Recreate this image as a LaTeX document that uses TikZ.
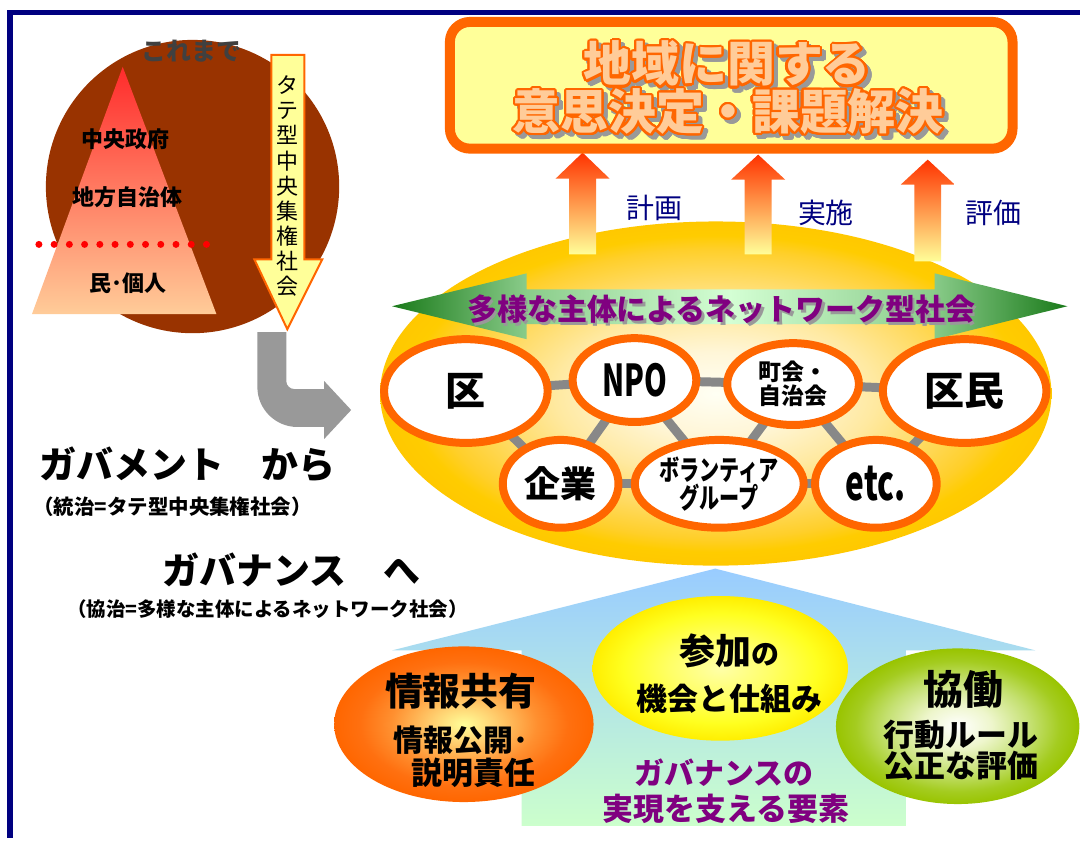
\documentclass[tikz,border=0pt]{standalone}
\usepackage{fontspec}
\setmainfont{Noto Sans CJK JP}
\usepackage{graphicx}
\usepackage{contour}
\contourlength{2.2pt}
\contournumber{24}
\usetikzlibrary{shapes.geometric}

\definecolor{navy}{HTML}{000080}
\definecolor{brownc}{HTML}{993300}
\definecolor{orng}{HTML}{FF6600}
\definecolor{lyel}{HTML}{FFFF99}
\definecolor{peach}{HTML}{FFCC99}
\definecolor{purp}{HTML}{800080}
\definecolor{gline}{HTML}{888888}
\definecolor{garrowc}{HTML}{999999}
\definecolor{dgray}{HTML}{404040}
\definecolor{shgray}{HTML}{999999}
\definecolor{triA}{HTML}{FF2B2B}
\definecolor{triB}{HTML}{FFCC99}
\definecolor{upA}{HTML}{FF3300}
\definecolor{upB}{HTML}{FFFF99}
\definecolor{houseA}{HTML}{99CCFF}
\definecolor{houseB}{HTML}{CCFFCC}
% big ellipse
\definecolor{beA}{HTML}{FFFFF4}
\definecolor{beB}{HTML}{FFF6D8}
\definecolor{beC}{HTML}{FFE9A0}
\definecolor{beD}{HTML}{FFDA60}
\definecolor{beE}{HTML}{FFCF2A}
\definecolor{beF}{HTML}{FFCC00}
\definecolor{beG}{HTML}{FFC800}
% orange ellipse
\definecolor{oeA}{HTML}{FFFF99}
\definecolor{oeB}{HTML}{FFD070}
\definecolor{oeC}{HTML}{FF9030}
\definecolor{oeD}{HTML}{FF7010}
\definecolor{oeE}{HTML}{FF6600}
% yellow ellipse
\definecolor{yeA}{HTML}{FFFFA8}
\definecolor{yeB}{HTML}{FFFF66}
\definecolor{yeC}{HTML}{FFFF20}
\definecolor{yeD}{HTML}{FFEE00}
% green ellipse
\definecolor{geA}{HTML}{FFFFFF}
\definecolor{geB}{HTML}{EEF6CC}
\definecolor{geC}{HTML}{C4E070}
\definecolor{geD}{HTML}{A4CC20}
\definecolor{geE}{HTML}{99C400}
% green double arrow
\definecolor{gdA}{HTML}{1A7A1A}
\definecolor{gdB}{HTML}{8ACC8A}
\definecolor{gdC}{HTML}{D4FFD4}

% note: a shaded path's bounding box corresponds to the range 25bp..75bp (radius 25bp)
\pgfdeclareradialshading{bigell}{\pgfpoint{0bp}{0bp}}{color(0bp)=(beA); color(6bp)=(beB); color(12bp)=(beC); color(17bp)=(beD); color(21bp)=(beE); color(23bp)=(beF); color(25bp)=(beG); color(50bp)=(beG)}
\pgfdeclareradialshading{orell}{\pgfpoint{0bp}{0bp}}{color(0bp)=(oeA); color(6bp)=(oeB); color(14bp)=(oeC); color(20bp)=(oeD); color(25bp)=(oeE); color(50bp)=(oeE)}
\pgfdeclareradialshading{yelell}{\pgfpoint{0bp}{0bp}}{color(0bp)=(yeA); color(10bp)=(yeB); color(19bp)=(yeC); color(25bp)=(yeD); color(50bp)=(yeD)}
\pgfdeclareradialshading{grnell}{\pgfpoint{0bp}{0bp}}{color(0bp)=(geA); color(7bp)=(geB); color(15bp)=(geC); color(21bp)=(geD); color(25bp)=(geE); color(50bp)=(geE)}
\pgfdeclarehorizontalshading{gdarrow}{100bp}{color(0bp)=(gdA); color(25bp)=(gdA); color(35bp)=(gdB); color(50bp)=(gdC); color(65bp)=(gdB); color(75bp)=(gdA); color(100bp)=(gdA)}

\pgfdeclarelayer{bgl}
\pgfdeclarelayer{lnk}
\pgfsetlayers{bgl,lnk,main}

\newcommand\fsz[1]{\fontsize{#1}{#1}\selectfont}

\tikzset{
  netnode/.style={ellipse, draw=orng, line width=8, fill=white, inner sep=0pt, font=\bfseries},
  conn/.style={gline, line width=9},
  uparrow/.style={top color=upA, bottom color=upB, draw=none},
  bold/.style={font=\bfseries\fsz{#1}},
  labelnavy/.style={text=navy, font=\fsz{28}},
}

\begin{document}
\begin{tikzpicture}[x=1pt,y=-1pt]
\begin{pgfonlayer}{bgl}
\useasboundingbox (0,0) rectangle (1083,840);
\fill[white] (0,0) rectangle (1083,840);
% ---------- big ellipse
\node[ellipse, minimum width=673, minimum height=345, inner sep=0pt, shading=bigell] (bigell) at (717.5,394.5) {};
\end{pgfonlayer}
\draw[navy, line width=5.5] (10,839.9) -- (10,12.5) -- (1082.9,12.5);

% ---------- left: circle and pyramid
\fill[brownc] (193,187) circle [radius=147];
\node[bold=25, text=dgray] (korema) at (192,51) {これまで};
\shade[top color=triA, bottom color=triB] (123,67) -- (217,315) -- (32,315) -- cycle;
\node[bold=22] (chuo) at (126,140) {中央政府};
\node[bold=22] (chiho) at (128,198) {地方自治体};
\node[bold=22] (min) at (128,284) {民･個人};
\draw[red, line width=7, line cap=round, dash pattern=on 0pt off 15.27pt] (39,245) -- (207,245);

% vertical yellow arrow
\draw[orng, fill=lyel, line width=2] (272,55) -- (305,55) -- (305,260) -- (323,260) -- (288,330) -- (255,260) -- (272,260) -- cycle;
\node[font=\fontsize{22}{25.1}\selectfont, align=center, inner sep=0pt] (tate) at (288,186.5) {タ\\テ\\型\\中\\央\\集\\権\\社\\会};

% gray bent arrow
\fill[garrowc] (258,333) -- (258,388) .. controls (258,410) and (276,428) .. (298,428) -- (325,428) -- (325,440) -- (352,411) -- (325,382) -- (325,390) -- (295,390) .. controls (290.6,390) and (287,386.4) .. (287,382) -- (287,333) -- cycle;

% left texts
\node[bold=37] (govt) at (188,466) {ガバメント　から};
\node[bold=20.5] (govtsub) at (173,508) {（統治=タテ型中央集権社会）};
\node[bold=37] (gover) at (292,571) {ガバナンス　へ};
\node[bold=19.5] (goversub) at (268,611) {（協治=多様な主体によるネットワーク社会）};

% ---------- bottom house shape
\shade[top color=houseA, bottom color=houseB] (717,570) -- (1038,652) -- (908,652) -- (908,828) -- (523,828) -- (523,652) -- (393,652) -- cycle;

% up arrows
\shade[uparrow] (570.5,255) -- (570.5,179) -- (557,179) -- (584,153) -- (611,179) -- (597.5,179) -- (597.5,255) -- cycle;
\shade[uparrow] (746.5,255) -- (746.5,180) -- (733,180) -- (760,155) -- (787,180) -- (773.5,180) -- (773.5,255) -- cycle;
\shade[uparrow] (916.5,262) -- (916.5,185) -- (903,185) -- (930,160) -- (957,185) -- (943.5,185) -- (943.5,262) -- cycle;

% green double arrow
\shade[shading=gdarrow] (393,307) -- (528,274) -- (528,290) -- (937,290) -- (937,274) -- (1070,307) -- (937,340) -- (937,325) -- (528,325) -- (528,340) -- cycle;
\node[bold=30, text=shgray] (netshadow) at (725.5,312.5) {多様な主体によるネットワーク型社会};
\node[bold=30, text=purp] (nettext) at (723,310) {多様な主体によるネットワーク型社会};

% network nodes
\node[netnode, minimum width=164, minimum height=104] (ku) at (467,392) {\fsz{40}区};
\node[netnode, minimum width=124, minimum height=84] (npo) at (636,381) {\fsz{44}\scalebox{0.66}[1]{NPO}};
\node[netnode, minimum width=132, minimum height=82, align=center, font=\bfseries\fontsize{23}{24}\selectfont] (chokai) at (795,385) {町会・\\自治会};
\node[netnode, minimum width=164, minimum height=104] (kumin) at (967,392) {\fsz{40}区民};
\node[netnode, minimum width=116, minimum height=88] (kigyo) at (562,485) {\fsz{36}企業};
\node[netnode, minimum width=122, minimum height=88, align=center, font=\bfseries\fontsize{28}{23}\selectfont] (vol) at (721,485) {\scalebox{0.72}[1]{ボランティア}\\\scalebox{0.72}[1]{グループ}};
\node[netnode, minimum width=122, minimum height=88] (etc) at (878,485) {\fsz{48}\scalebox{0.66}[1]{etc.}};

\begin{pgfonlayer}{lnk}
\draw[conn] (ku.center) -- (npo.center);
\draw[conn] (npo.center) -- (chokai.center);
\draw[conn] (chokai.center) -- (kumin.center);
\draw[conn] (ku.center) -- (kigyo.center);
\draw[conn] (npo.center) -- (kigyo.center);
\draw[conn] (npo.center) -- (vol.center);
\draw[conn] (chokai.center) -- (vol.center);
\draw[conn] (chokai.center) -- (etc.center);
\draw[conn] (kumin.center) -- (etc.center);
\draw[conn] (kigyo.center) -- (vol.center);
\draw[conn] (vol.center) -- (etc.center);
\end{pgfonlayer}

% ---------- top box
\node[draw=orng, line width=10, fill=lyel, rounded corners=20, minimum width=564, minimum height=127, inner sep=0pt] (topbox) at (733,85.5) {};
\node[bold=48, text=shgray] (t1s) at (733,69) {\contour{shgray}{地域に関する}};
\node[bold=48, text=peach] (t1) at (729,65) {\contour{orng}{地域に関する}};
\node[bold=48, text=shgray] (t2s) at (734,117) {\contour{shgray}{意思決定・課題解決}};
\node[bold=48, text=peach] (t2) at (730,113) {\contour{orng}{意思決定・課題解決}};

\node[labelnavy] (plan) at (656,208) {計画};
\node[labelnavy] (impl) at (828,213) {実施};
\node[labelnavy] (eval) at (996,213) {評価};

% ---------- bottom ellipses
\node[ellipse, minimum width=256, minimum height=145, inner sep=0pt, shading=yelell] (part) at (722,670) {};
\node[ellipse, minimum width=260, minimum height=156, inner sep=0pt, shading=orell] (info) at (465,726) {};
\node[ellipse, minimum width=244, minimum height=156, inner sep=0pt, shading=grnell] (coop) at (960,728) {};

\node[bold=38] (infoA) at (462,693) {情報共有};
\node[bold=30] (infoB) at (462,742) {情報公開･};
\node[bold=31] (infoC) at (475,775) {説明責任};
\node[font=\bfseries] (partA) at (731,652) {\fsz{36}参加\fsz{28}の};
\node[bold=31] (partB) at (731,700) {機会と仕組み};
\node[bold=40] (coopA) at (966,691) {協働};
\node[bold=31] (coopB) at (963,737) {行動ルール};
\node[bold=31] (coopC) at (963,768) {公正な評価};
\node[bold=30, text=purp] (elemA) at (726,775) {ガバナンスの};
\node[bold=31, text=purp] (elemB) at (728,811) {実現を支える要素};
\end{tikzpicture}
\end{document}
